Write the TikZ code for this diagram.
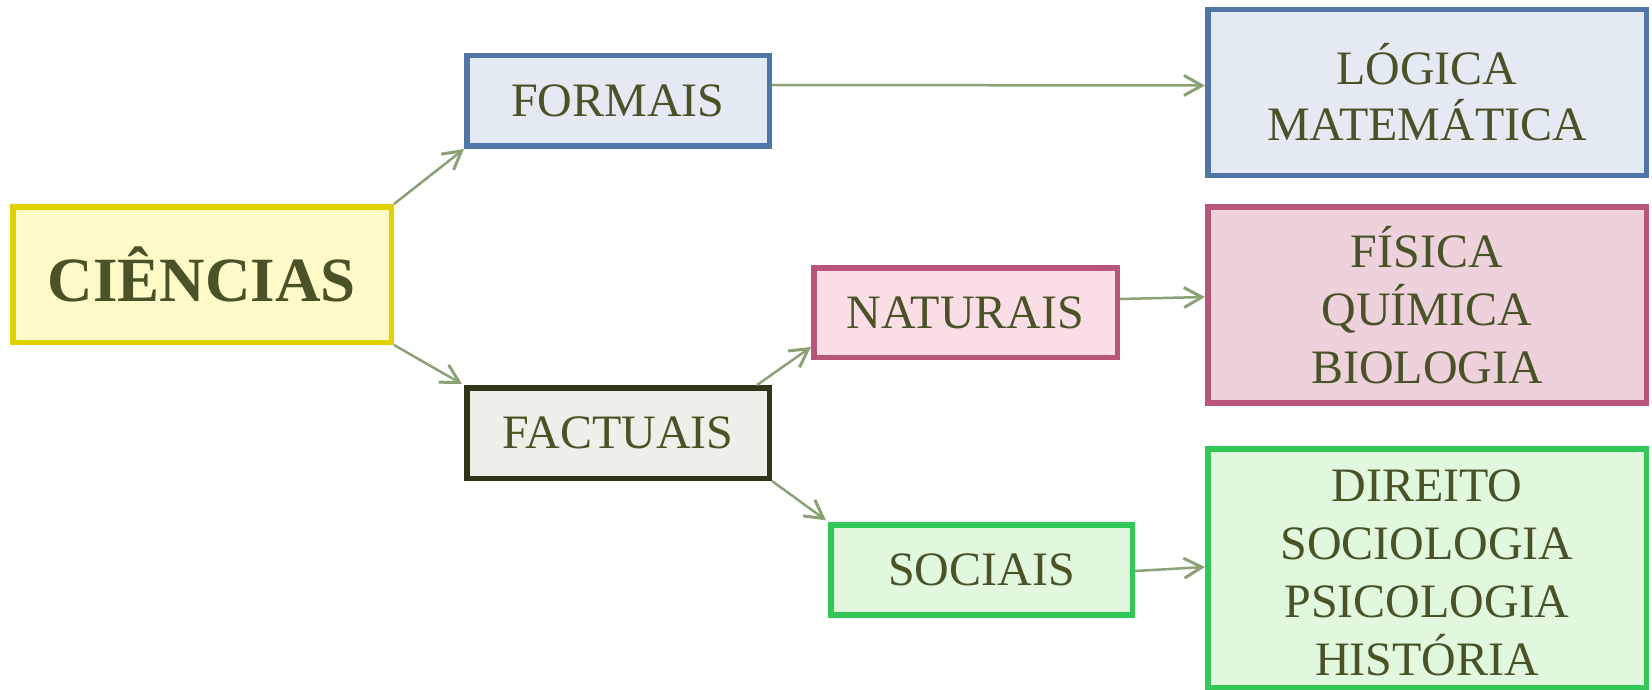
\documentclass[tikz,border=0pt]{standalone}
\usepackage{fontspec}
\setmainfont{Liberation Serif}
\usetikzlibrary{arrows.meta,calc}
\definecolor{txt}{RGB}{74,82,40}
\definecolor{ylwB}{RGB}{226,209,0}
\definecolor{ylwF}{RGB}{255,250,200}
\definecolor{bluB}{RGB}{79,118,166}
\definecolor{bluF}{RGB}{228,234,244}
\definecolor{drkB}{RGB}{46,53,25}
\definecolor{drkF}{RGB}{237,240,232}
\definecolor{pnkB}{RGB}{184,85,122}
\definecolor{pnkF}{RGB}{251,221,229}
\definecolor{pnkG}{RGB}{237,209,219}
\definecolor{grnB}{RGB}{51,199,88}
\definecolor{grnF}{RGB}{225,248,223}
\definecolor{arr}{RGB}{139,162,116}
\begin{document}
\begin{tikzpicture}[x=1pt,y=-1pt,
  box/.style={draw, line width=5.5pt, inner sep=0pt, align=center, text=txt,
    font=\fontsize{48}{56}\selectfont},
  conn/.style={draw=arr, line width=2.5pt, -{Straight Barb[length=18pt,width=20pt,line width=3pt]}}]
\useasboundingbox (0,0) rectangle (1652,690);
\node[box, draw=ylwB, fill=ylwF, minimum width=378.5pt, minimum height=135.5pt,
  font=\fontsize{63}{70}\selectfont\bfseries] (cien) at (202,274.5) {CIÊNCIAS};
\node[box, draw=bluB, fill=bluF, minimum width=302.5pt, minimum height=90.5pt] (form) at (618,101) {FORMAIS};
\node[box, draw=drkB, fill=drkF, minimum width=302.5pt, minimum height=90.5pt] (fact) at (618,433) {FACTUAIS};
\node[box, draw=pnkB, fill=pnkF, minimum width=303.5pt, minimum height=89.5pt] (nat) at (965.5,312.5) {NATURAIS};
\node[box, draw=grnB, fill=grnF, minimum width=301.5pt, minimum height=90pt] (soc) at (981.5,570) {SOCIAIS};
\node[box, draw=bluB, fill=bluF, minimum width=438.5pt, minimum height=165.5pt] (log) at (1427,92.5) {LÓGICA\\MATEMÁTICA};
\node[box, draw=pnkB, fill=pnkG, minimum width=438.5pt, minimum height=196pt,
  font=\fontsize{48}{58}\selectfont] (fis) at (1427,304.75) {FÍSICA\\QUÍMICA\\BIOLOGIA};
\node[box, draw=grnB, fill=grnF, minimum width=438.5pt, minimum height=238.5pt,
  font=\fontsize{48}{58}\selectfont] (dir) at (1427,568) {\rule{0pt}{42pt}DIREITO\\SOCIOLOGIA\\PSICOLOGIA\\HISTÓRIA};
\draw[conn] (cien.north east) -- (form.south west);
\draw[conn] (cien.south east) -- ([xshift=-2pt,yshift=1pt]fact.north west);
\draw[conn] ([yshift=16pt]form.east) -- ([yshift=7pt]log.west);
\draw[conn] ([xshift=-15pt]fact.north east) -- ([yshift=13pt]nat.south west);
\draw[conn] (fact.south east) -- ([xshift=-2pt,yshift=2pt]soc.north west);
\draw[conn] ([yshift=13.5pt]nat.east) -- ([yshift=7.75pt]fis.west);
\draw[conn] ([yshift=-1pt]soc.east) -- ([yshift=1pt]dir.west);
\end{tikzpicture}
\end{document}
